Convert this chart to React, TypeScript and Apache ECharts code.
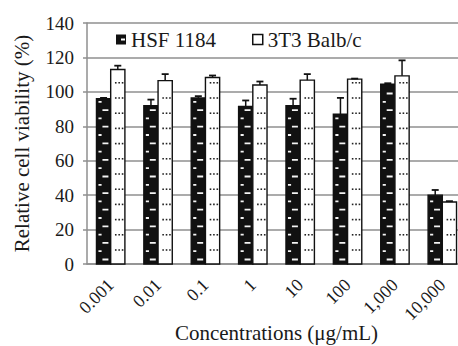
import React, { useEffect, useRef } from "react";
import * as echarts from "echarts";

const categories = ["0.001", "0.01", "0.1", "1", "10", "100", "1,000", "10,000"];
const hsfValues = [96, 92, 96.5, 91.5, 92, 87, 104.5, 40];
const hsfErrors = [0.5, 3.5, 1, 3.5, 4, 9.5, 0.5, 3];
const balbValues = [113, 106.5, 108.3, 104, 106.8, 107.4, 109.3, 36];
const balbErrors = [2.2, 3.8, 1.2, 2, 3.5, 0.3, 9, 0.5];
const yTicks = [0, 20, 40, 60, 80, 100, 120, 140];

const FONT = "Liberation Serif, Times New Roman, serif";
const GRID_COLOR = "#8f8f8f";

function makeRenderItem(side: "left" | "right") {
  return (params: any, api: any) => {
    const idx = api.value(0);
    const v = api.value(1);
    const e = api.value(2);
    const band = api.size([1, 0])[0];
    const w = band * 0.3;
    const top = api.coord([idx, v]);
    const base = api.coord([idx, 0]);
    const errTop = api.coord([idx, v + e]);
    const x0 = side === "left" ? top[0] - w : top[0];
    const cx = x0 + w / 2;
    const children: any[] = [];
    children.push({
      type: "rect",
      shape: { x: x0, y: top[1], width: w, height: base[1] - top[1] },
      style: { fill: side === "left" ? "#111" : "#fff", stroke: "#111", lineWidth: 1.4 },
    });
    if (side === "left") {
      let k = 0;
      for (let y = base[1] - 4.5; y > top[1] + 3; y -= 8.3) {
        const long = k % 2 === 0;
        children.push({
          type: "rect",
          shape: long
            ? { x: x0 + w * 0.42, y: y - 0.9, width: w * 0.42, height: 1.8 }
            : { x: x0 + w * 0.14, y: y - 0.9, width: w * 0.22, height: 1.8 },
          style: { fill: "#f4f4f4" },
        });
        k++;
      }
    } else {
      for (let y = base[1] - 14; y > top[1] + 3; y -= 15.2) {
        for (let j = 0; j < 3; j++) {
          children.push({
            type: "rect",
            shape: { x: x0 + w * 0.3 + j * w * 0.24, y: y - 0.8, width: 1.6, height: 1.6 },
            style: { fill: "#222" },
          });
        }
      }
    }
    if (e > 0) {
      children.push({
        type: "line",
        shape: { x1: cx, y1: top[1], x2: cx, y2: errTop[1] },
        style: { stroke: "#111", lineWidth: 1.5 },
      });
      children.push({
        type: "line",
        shape: { x1: cx - 3.5, y1: errTop[1], x2: cx + 3.5, y2: errTop[1] },
        style: { stroke: "#111", lineWidth: 1.8 },
      });
    }
    return { type: "group", children };
  };
}

export default function App() {
  const ref = useRef<HTMLDivElement>(null);
  useEffect(() => {
    if (!ref.current) return;
    const chart = echarts.init(ref.current, undefined, { renderer: "svg" });
    chart.setOption({
      animation: false,
      backgroundColor: "#fff",
      textStyle: { fontFamily: FONT },
      grid: {
        left: 87,
        right: -8,
        top: 23,
        bottom: 82,
        containLabel: false,
        outerBoundsMode: "none",
      },
      legend: {
        left: 111,
        top: 24,
        padding: 5,
        itemWidth: 10,
        itemHeight: 10,
        itemGap: 36,
        textStyle: { fontFamily: FONT, fontSize: 21, color: "#1a1a1a" },
        data: [
          {
            name: "HSF 1184",
            icon: "path://M0,0H10V10H0Z M5,4V6H9V4Z",
            itemStyle: { color: "#111", borderWidth: 0 },
          },
          {
            name: "3T3 Balb/c",
            icon: "rect",
            itemStyle: { color: "#fff", borderColor: "#111", borderWidth: 1.5 },
          },
        ],
      },
      xAxis: {
        type: "category",
        data: categories,
        name: "Concentrations (μg/mL)",
        nameLocation: "middle",
        nameGap: 58,
        nameMoveOverlap: false,
        nameTextStyle: { fontFamily: FONT, fontSize: 21, color: "#1a1a1a" },
        axisLine: { show: true, lineStyle: { color: GRID_COLOR, width: 1.5 } },
        axisTick: { show: false },
        axisLabel: {
          rotate: 45,
          margin: 18,
          fontFamily: FONT,
          fontSize: 18,
          color: "#1a1a1a",
          interval: 0,
        },
      },
      yAxis: {
        type: "value",
        min: 0,
        max: 140,
        interval: 20,
        name: "Relative cell viability (%)",
        nameLocation: "middle",
        nameGap: 55,
        nameMoveOverlap: false,
        nameTextStyle: { fontFamily: FONT, fontSize: 21, color: "#1a1a1a" },
        axisLine: { show: true, lineStyle: { color: GRID_COLOR, width: 1.5 } },
        axisTick: { show: true, length: 4, lineStyle: { color: GRID_COLOR, width: 1.5 } },
        splitLine: { show: true, lineStyle: { color: GRID_COLOR, width: 1.5 } },
        axisLabel: {
          margin: 13,
          fontFamily: FONT,
          fontSize: 19,
          color: "#1a1a1a",
          formatter: (val: number) => (yTicks.includes(val) ? String(val) : ""),
        },
      },
      series: [
        {
          name: "HSF 1184",
          type: "custom",
          renderItem: makeRenderItem("left"),
          itemStyle: { color: "#111" },
          encode: { x: 0, y: 1 },
          data: hsfValues.map((v, i) => [i, v, hsfErrors[i]]),
          z: 3,
        },
        {
          name: "3T3 Balb/c",
          type: "custom",
          renderItem: makeRenderItem("right"),
          itemStyle: { color: "#fff" },
          encode: { x: 0, y: 1 },
          data: balbValues.map((v, i) => [i, v, balbErrors[i]]),
          z: 3,
        },
      ],
    });
    return () => chart.dispose();
  }, []);
  return <div ref={ref} style={{ width: 458, height: 346, position: "absolute", left: 0, top: 0 }} />;
}
